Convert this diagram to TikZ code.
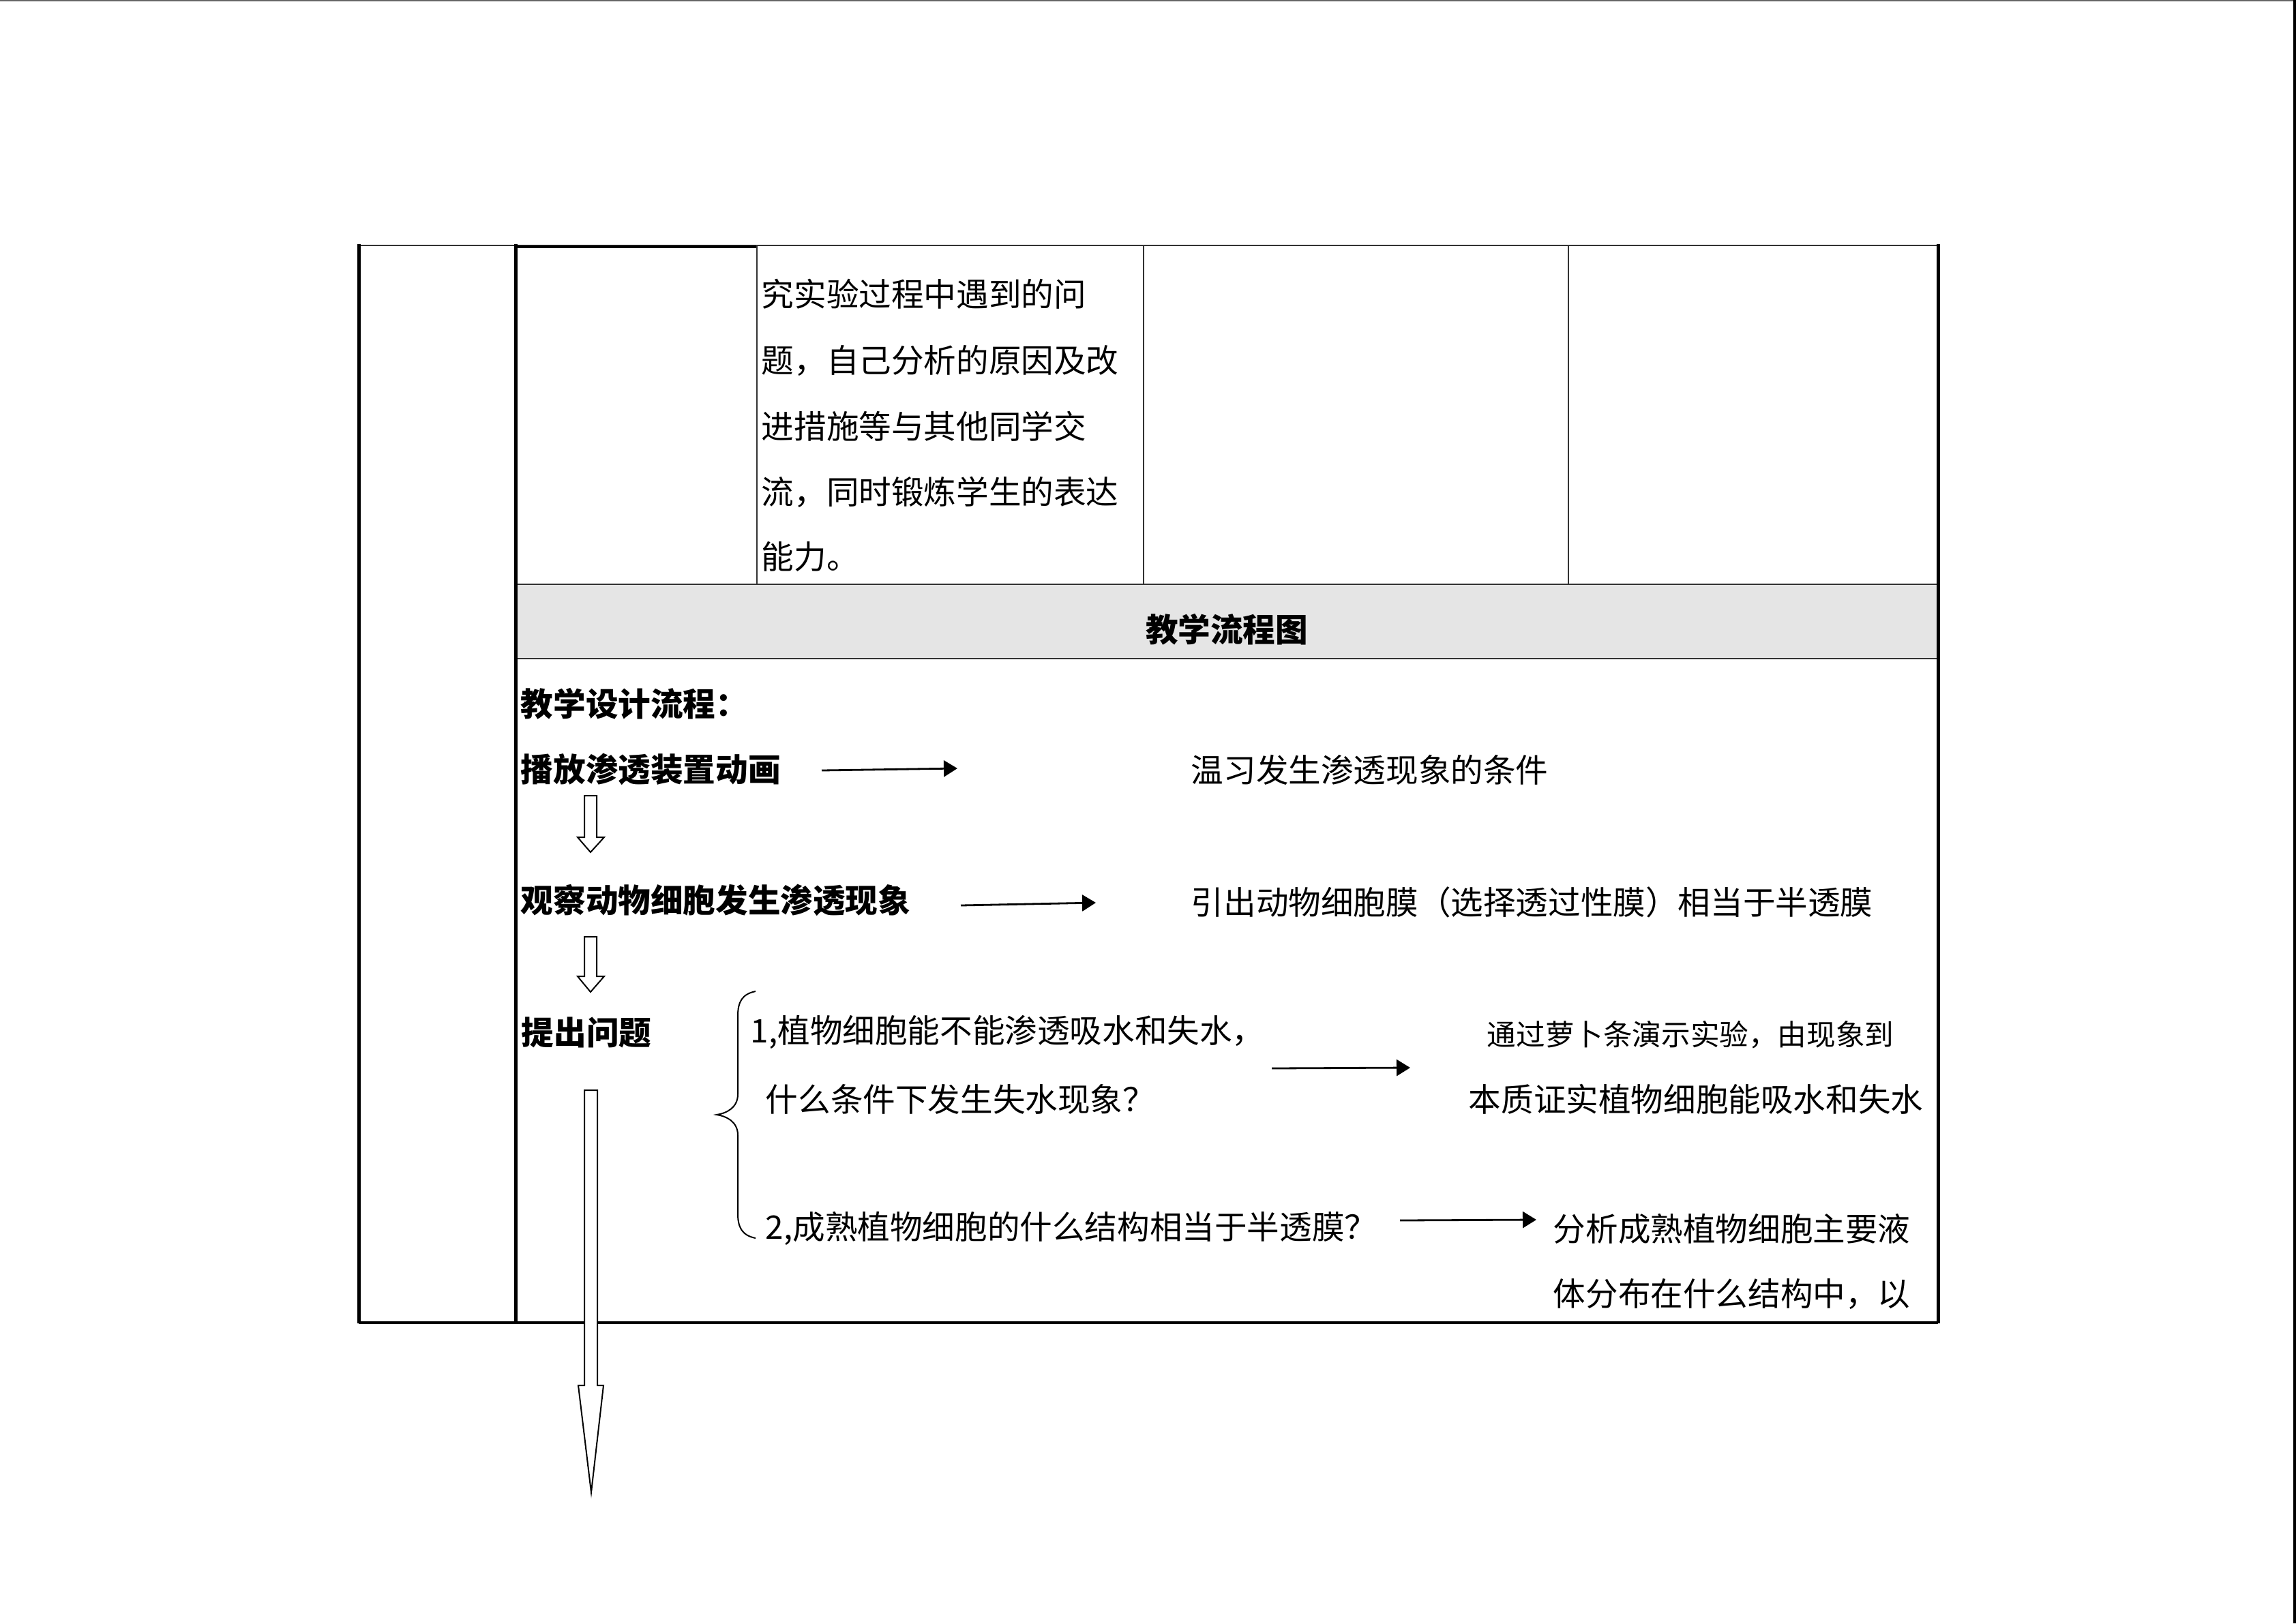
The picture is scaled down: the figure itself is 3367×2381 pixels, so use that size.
\documentclass[tikz,border=0pt]{standalone}
\usepackage{fontspec}
\newfontfamily\cjk{Noto Sans CJK SC}
\usetikzlibrary{arrows.meta}
\begin{document}
\begin{tikzpicture}[x=0.25pt,y=-0.25pt,
  txt/.style={anchor=west,inner sep=0pt,font=\cjk\fontsize{11.9pt}{14pt}\selectfont},
  smalltxt/.style={anchor=west,inner sep=0pt,font=\cjk\fontsize{10.65pt}{13pt}\selectfont},
  boldtxt/.style={anchor=west,inner sep=0pt,font=\cjk\bfseries\fontsize{11.9pt}{14pt}\selectfont},
  thickrule/.style={line width=1.25pt,black},
  thinrule/.style={line width=0.4pt,black!80},
  midrule/.style={line width=0.7pt,black!80},
  flowarrow/.style={line width=0.7pt,-{Triangle[length=5pt,width=6pt]}},
  hollow/.style={line width=0.5pt,draw=black,fill=white,line join=miter}]
\useasboundingbox (0,0) rectangle (3367,2381);
% page frame
\draw[line width=0.4pt,black!60] (0,1) -- (3367,1);
\draw[line width=1pt] (3365,0) -- (3365,2381);
% table
\fill[black!10] (756,857) rectangle (2842,966);
\draw[midrule] (526,360) -- (2842,360);
\draw[line width=1pt] (756,362) -- (1110,362);
\draw[thinrule] (1110,360) -- (1110,857);
\draw[thinrule] (1677,360) -- (1677,857);
\draw[thinrule] (2300,360) -- (2300,857);
\draw[midrule] (756,857) -- (2842,857);
\draw[midrule] (756,966) -- (2842,966);
\draw[line width=0.8pt] (526,1940) -- (2842,1940);
\draw[thickrule] (526,358) -- (526,1941);
\draw[thickrule] (756,358) -- (756,1941);
\draw[thickrule] (2842,358) -- (2842,1941);
% first row text
\node[txt] (r1) at (1116,431) {究实验过程中遇到的问};
\node[txt] (r2) at (1116,529) {题，自己分析的原因及改};
\node[txt] (r3) at (1116,625) {进措施等与其他同学交};
\node[txt] (r4) at (1116,722) {流，同时锻炼学生的表达};
\node[txt] (r5) at (1116,816) {能力。};
% header
\node[boldtxt,anchor=center] (head) at (1799,923) {教学流程图};
% flow
\node[boldtxt] (design) at (763,1032) {教学设计流程：};
\node[boldtxt] (play) at (763,1128) {播放渗透装置动画};
\node[boldtxt] (observe) at (763,1320) {观察动物细胞发生渗透现象};
\node[boldtxt] (ask) at (764,1514) {提出问题};
\node[txt] (review) at (1746,1129) {温习发生渗透现象的条件};
\node[txt] (lead) at (1746,1323) {引出动物细胞膜（选择透过性膜）相当于半透膜};
\node[txt] (q1a) at (1100,1514) {1,植物细胞能不能渗透吸水和失水，};
\node[txt] (q1b) at (1122,1612) {什么条件下发生失水现象？};
\node[smalltxt] (a1a) at (2180,1518) {通过萝卜条演示实验，由现象到};
\node[txt] (a1b) at (2153,1612) {本质证实植物细胞能吸水和失水};
\node[txt] (q2) at (1122,1802) {2,成熟植物细胞的什么结构相当于半透膜？};
\node[txt] (a2a) at (2277,1802) {分析成熟植物细胞主要液};
\node[txt] (a2b) at (2277,1898) {体分布在什么结构中，以};
% black arrows
\coordinate (p1s) at (1205,1130); \coordinate (p1e) at (1404,1127);
\coordinate (p2s) at (1409,1328); \coordinate (p2e) at (1607,1324);
\coordinate (p3s) at (1865,1567); \coordinate (p3e) at (2068,1566);
\coordinate (p4s) at (2053,1790); \coordinate (p4e) at (2253,1789);
\draw[flowarrow] (p1s) -- (p1e);
\draw[flowarrow] (p2s) -- (p2e);
\draw[flowarrow] (p3s) -- (p3e);
\draw[flowarrow] (p4s) -- (p4e);
% brace
\draw[line width=0.5pt] (1108,1454) .. controls (1088,1458) and (1082,1470) .. (1082,1490)
  -- (1082,1605) .. controls (1082,1625) and (1065,1633) .. (1051,1635)
  .. controls (1065,1637) and (1082,1645) .. (1082,1665)
  -- (1082,1780) .. controls (1082,1800) and (1088,1812) .. (1108,1816);
% hollow arrows
\draw[hollow] (857,1167) -- (875,1167) -- (875,1228) -- (886,1228) -- (866,1250) -- (847,1228) -- (857,1228) -- cycle;
\draw[hollow] (857,1374) -- (875,1374) -- (875,1432) -- (886,1432) -- (866,1455) -- (847,1432) -- (857,1432) -- cycle;
\draw[hollow] (857,1599) -- (876,1599) -- (876,2032) -- (885,2032) -- (867,2189) -- (848,2032) -- (857,2032) -- cycle;
\end{tikzpicture}
\end{document}
